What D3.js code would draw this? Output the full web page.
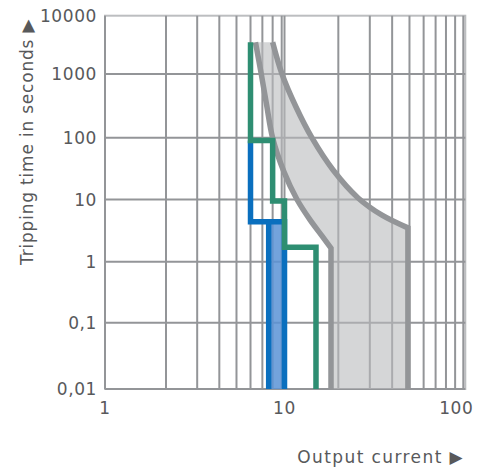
<!DOCTYPE html>
<html>
<head>
<meta charset="utf-8">
<script src="https://cdn.jsdelivr.net/npm/d3@7"></script>
<style>
  html, body { margin: 0; padding: 0; background: #ffffff; }
  svg { display: block; }
  text { font-family: "DejaVu Sans", sans-serif; fill: #58595b; }
</style>
</head>
<body>
<svg id="chart" width="488" height="468"></svg>
<script>
// ---- data ----
const xMajor = [1, 10, 100];
const xMajorLabels = ["1", "10", "100"];
const xMinor = [2, 3, 4, 5, 6, 7, 8, 9, 20, 30, 40, 50, 60, 70, 80, 90];
const yMajor = [0.01, 0.1, 1, 10, 100, 1000, 10000];
const yMajorLabels = ["0,01", "0,1", "1", "10", "100", "1000", "10000"];

// green step characteristic
const greenI = [6, 6, 8, 8, 10, 10, 15, 15];
const greenT = [3500, 90, 90, 9.5, 9.5, 1.7, 1.7, 0.01];

// blue characteristic (upper step and lower limit)
const blueMaxI = [6, 6, 10, 10];
const blueMaxT = [90, 4.4, 4.4, 0.01];
const blueMinI = [7.6, 7.6];
const blueMinT = [4.4, 0.01];

// grey tolerance band
const bandInnerI = [6.4, 6.9, 7.4, 8.0, 9.8, 11.75, 13.9, 16.2, 18.2];
const bandInnerT = [3500, 1000, 326, 99, 28, 10, 4.7, 2.6, 1.65];
const bandOuterI = [8.0, 9.1, 11.6, 14.25, 18.7, 25.8, 35.1, 49];
const bandOuterT = [3500, 1000, 303, 99, 30, 10.6, 5.6, 3.5];
const tMin = 0.01;

(function () {
// ---- scales (piecewise log, matching the printed grid) ----
const x = d3.scaleLog().domain([1, 2, 9, 10, 100]).range([105, 166, 281.7, 284.5, 463.3]);
const y = d3.scaleLog().domain([0.01, 0.1, 1, 10, 100, 1000, 10000])
  .range([389, 322.7, 261.7, 199.5, 137.7, 74, 15.7]);

const svg = d3.select("#chart");
const gridColor = "#939598";
const pL = x(1), pR = x(100) + 2, pT = y(10000), pB = y(0.01);

// frame (light)
svg.append("rect").attr("x", pL).attr("y", pT)
  .attr("width", pR - pL).attr("height", pB - pT)
  .attr("fill", "none").attr("stroke", "#bcbec0").attr("stroke-width", 2);

// vertical grid
svg.append("g").selectAll("line").data(xMinor.concat(xMajor)).join("line")
  .attr("x1", d => x(d)).attr("x2", d => x(d))
  .attr("y1", pT).attr("y2", pB)
  .attr("stroke", gridColor).attr("stroke-width", 2);
// horizontal grid
svg.append("g").selectAll("line").data(yMajor.filter(v => v < 10000)).join("line")
  .attr("x1", pL).attr("x2", pR)
  .attr("y1", d => y(d)).attr("y2", d => y(d))
  .attr("stroke", gridColor).attr("stroke-width", 2);

const zip = (a, b) => a.map((v, i) => [v, b[i]]);
const lc = d3.line().x(d => x(d[0])).y(d => y(d[1])).curve(d3.curveCatmullRom.alpha(0.5));
const ll = d3.line().x(d => x(d[0])).y(d => y(d[1]));

const inner = zip(bandInnerI, bandInnerT);
const outer = zip(bandOuterI, bandOuterT);
const iLast = inner[inner.length - 1], oLast = outer[outer.length - 1];

// band fill
const fillPath = lc(inner)
  + "L" + x(iLast[0]) + "," + y(tMin)
  + "L" + x(oLast[0]) + "," + y(tMin)
  + "L" + lc(outer.slice().reverse()).slice(1) + "Z";
svg.append("path").attr("d", fillPath)
  .attr("fill", "#b9babd").attr("fill-opacity", 0.6).attr("stroke", "none");

// band strokes
[inner, outer].forEach(pts => {
  const last = pts[pts.length - 1];
  svg.append("path")
    .attr("d", lc(pts) + "L" + x(last[0]) + "," + y(tMin))
    .attr("fill", "none").attr("stroke", "#939598").attr("stroke-width", 5.5)
    .attr("stroke-linejoin", "miter");
});

// blue fill between limits
const blueFill = ll([[blueMinI[0], blueMinT[0]], [blueMaxI[2], blueMaxT[2]], [blueMaxI[3], blueMaxT[3]], [blueMinI[1], blueMinT[1]]]) + "Z";
svg.append("path").attr("d", blueFill).attr("fill", "#5a93d6").attr("fill-opacity", 0.85);

// blue lines
[zip(blueMaxI, blueMaxT), zip(blueMinI, blueMinT)].forEach(pts => {
  svg.append("path").attr("d", ll(pts)).attr("fill", "none")
    .attr("stroke", "#0a6fbe").attr("stroke-width", 5.5).attr("stroke-linejoin", "miter");
});

// green line
svg.append("path").attr("d", ll(zip(greenI, greenT))).attr("fill", "none")
  .attr("stroke", "#2e8e72").attr("stroke-width", 5.5).attr("stroke-linejoin", "miter");

// y tick labels
svg.append("g").selectAll("text").data(yMajor).join("text")
  .attr("x", 97).attr("y", d => y(d)).attr("dy", "0.36em")
  .attr("text-anchor", "end").attr("font-size", 17).attr("letter-spacing", 0.6)
  .text((d, i) => yMajorLabels[i]);

// x tick labels
svg.append("g").selectAll("text").data(xMajor).join("text")
  .attr("x", d => x(d) - (d === 100 ? 7 : 0)).attr("y", 408).attr("dy", "0.36em")
  .attr("text-anchor", "middle").attr("font-size", 17).attr("letter-spacing", 0.6)
  .text((d, i) => xMajorLabels[i]);

// axis titles
svg.append("text").attr("x", 464).attr("y", 463)
  .attr("text-anchor", "end").attr("font-size", 17).attr("letter-spacing", 1.4)
  .text("Output current \u25B6");
svg.append("text").attr("transform", "translate(33,265) rotate(-90)")
  .attr("text-anchor", "start").attr("font-size", 17).attr("letter-spacing", 0.8)
  .text("Tripping time in seconds \u25B6");
})();
</script>
</body>
</html>
